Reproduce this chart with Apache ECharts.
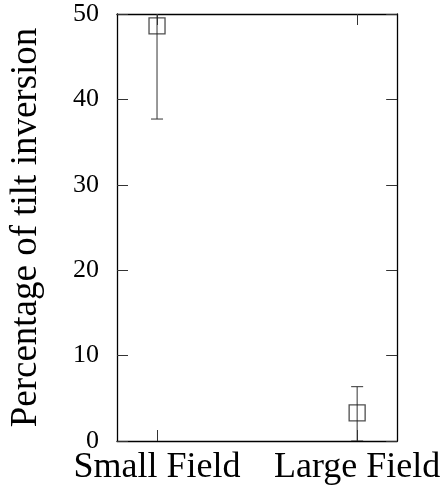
<!DOCTYPE html>
<html><head><meta charset="utf-8">
<script src="https://cdn.jsdelivr.net/npm/echarts@6/dist/echarts.min.js"></script>
<style>html,body{margin:0;padding:0;background:#fff}#c{width:443px;height:495px}</style>
</head><body><div id="c"></div>
<script>
const categories = ['Small Field', 'Large Field'];
const positions = [1, 2];
const values = [48.6, 3.3];
const lowerErr = [37.7, 0.0];
const upperErr = [59.5, 6.36];
const yTicks = [0, 10, 20, 30, 40, 50];

const FONT = 'Liberation Serif';
const chart = echarts.init(document.getElementById('c'), null, {renderer: 'canvas'});

const pts = positions.map((p, i) => [p, values[i], lowerErr[i], upperErr[i]]);

function axisLine() { return {show: true, onZero: false, lineStyle: {color: '#000', width: 1.3}}; }
function tick(extra) { return Object.assign({show: true, inside: true, length: 11, lineStyle: {color: '#333', width: 1}}, extra || {}); }

chart.setOption({
  animation: false,
  backgroundColor: '#fff',
  grid: {left: 115, top: 14, right: 43, bottom: 54, containLabel: false},
  xAxis: [
    {
      type: 'value', min: 0.8, max: 2.2, position: 'bottom',
      axisLine: axisLine(), splitLine: {show: false},
      axisTick: tick({customValues: positions}),
      axisLabel: {customValues: positions, margin: 9, color: '#000', fontFamily: FONT, fontSize: 36,
        formatter: v => { const i = positions.indexOf(v); return i >= 0 ? categories[i] : ''; }}
    },
    {
      type: 'value', min: 0.8, max: 2.2, position: 'top',
      axisLine: axisLine(), splitLine: {show: false},
      axisTick: tick({customValues: positions}),
      axisLabel: {show: false}
    }
  ],
  yAxis: [
    {
      type: 'value', min: 0, max: 50, interval: 10, position: 'left',
      axisLine: axisLine(), splitLine: {show: false}, axisTick: tick(),
      name: 'Percentage of tilt inversion', nameLocation: 'middle', nameGap: 72,
      nameTextStyle: {color: '#000', fontFamily: FONT, fontSize: 37},
      axisLabel: {color: '#000', fontFamily: FONT, fontSize: 26, margin: 18,
        formatter: v => yTicks.indexOf(v) >= 0 ? String(v) : ''}
    },
    {
      type: 'value', min: 0, max: 50, interval: 10, position: 'right',
      axisLine: axisLine(), splitLine: {show: false}, axisTick: tick(),
      axisLabel: {show: false}
    }
  ],
  series: [
    {
      type: 'custom',
      clip: true,
      xAxisIndex: 0, yAxisIndex: 0,
      data: pts,
      encode: {x: 0, y: [1, 2, 3]},
      renderItem: function (params, api) {
        const x = api.value(0);
        const lo = api.coord([x, api.value(2)]);
        const hi = api.coord([x, api.value(3)]);
        const cap = 6;
        const style = {stroke: '#333', lineWidth: 1};
        return {
          type: 'group',
          children: [
            {type: 'line', shape: {x1: lo[0], y1: lo[1], x2: hi[0], y2: hi[1]}, style: style},
            {type: 'line', shape: {x1: lo[0] - cap, y1: lo[1], x2: lo[0] + cap, y2: lo[1]}, style: style},
            {type: 'line', shape: {x1: hi[0] - cap, y1: hi[1], x2: hi[0] + cap, y2: hi[1]}, style: style}
          ]
        };
      },
      z: 2
    },
    {
      type: 'scatter',
      xAxisIndex: 0, yAxisIndex: 0,
      data: positions.map((p, i) => [p, values[i]]),
      symbol: 'rect', symbolSize: 16,
      itemStyle: {color: 'rgba(0,0,0,0)', borderColor: '#222', borderWidth: 1.3},
      z: 3
    }
  ]
});
</script></body></html>
